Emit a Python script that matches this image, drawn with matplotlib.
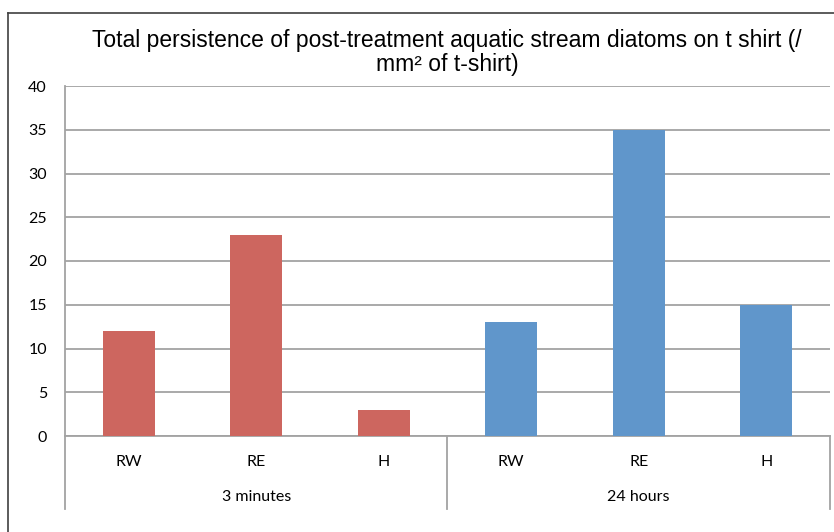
import matplotlib.pyplot as plt
import matplotlib.transforms as mtransforms
from matplotlib.lines import Line2D

# Data
categories = ["RW", "RE", "H", "RW", "RE", "H"]
groups = ["3 minutes", "24 hours"]
values_3min = [12, 23, 3]
values_24h = [13, 35, 15]
yticks = [0, 5, 10, 15, 20, 25, 30, 35, 40]
title_lines = ["Total persistence of post-treatment aquatic stream diatoms on t shirt (/",
               "mm² of t-shirt)"]

red = "#CD665F"
blue = "#6096CB"
grid_gray = "#A3A3A3"

fig = plt.figure(figsize=(8.34, 5.32), dpi=100)
W, H = 834, 532
ax = fig.add_axes([65 / W, (H - 436) / H, (830 - 65) / W, 350 / H])

# Bars
x_3min = range(0, 3)
x_24h = range(3, 6)
ax.bar(x_3min, values_3min, width=0.41, color=red, zorder=3)
ax.bar(x_24h, values_24h, width=0.41, color=blue, zorder=3)

ax.set_xlim(-0.5, 5.5)
ax.set_ylim(0, 40)
ax.set_yticks(yticks)
ax.set_yticklabels([str(v) for v in yticks], fontsize=11.5, family="Lato")
ax.tick_params(axis="y", length=0, pad=13)
ax.set_xticks([])
ax.grid(axis="y", color=grid_gray, linewidth=1.3, zorder=0)

for side in ["top", "right"]:
    ax.spines[side].set_visible(False)
for side in ["left", "bottom"]:
    ax.spines[side].set_color(grid_gray)
    ax.spines[side].set_linewidth(1.3)

# Multi-level category axis
trans = mtransforms.blended_transform_factory(ax.transData, ax.transAxes)
cat_y = -(462 - 436) / 350
grp_y = -(497 - 436) / 350
sep_y = -(509 - 436) / 350
for i, lab in enumerate(categories):
    ax.text(i, cat_y, lab, transform=trans, ha="center", va="center",
            fontsize=11.5, family="Lato")
for g, lab in enumerate(groups):
    ax.text(g * 3 + 1, grp_y, lab, transform=trans, ha="center", va="center",
            fontsize=11.5, family="Lato")
for xs in [-0.5, 2.5, 5.5]:
    ax.plot([xs, xs], [0, sep_y], transform=trans, color=grid_gray,
            linewidth=1.3, clip_on=False)

# Title (two lines, placed separately)
for line, ypix in zip(title_lines, [41, 64]):
    fig.text(447 / W, 1 - ypix / H, line, ha="center", va="center",
             fontsize=16.5, family="Liberation Sans")

# Outer chart border (left and top visible)
fig.add_artist(Line2D([8 / W, 8 / W], [0, 1 - 13 / H], color="#404040", linewidth=1.2))
fig.add_artist(Line2D([8 / W, 1], [1 - 13 / H, 1 - 13 / H], color="#404040", linewidth=1.2))

fig.savefig("out.png", dpi=100)
